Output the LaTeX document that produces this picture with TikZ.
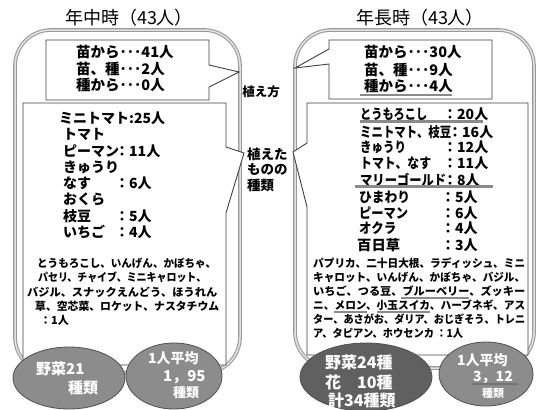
\documentclass[tikz,border=0pt]{standalone}
\usepackage{graphicx}
\usepackage{fontspec}
\newfontfamily\jp{Noto Sans CJK JP}
\newcommand{\jpsz}[1]{\fontsize{#1}{#1}\selectfont}
\newcommand{\fitw}[2]{\resizebox{#1pt}{\height}{#2}}
\definecolor{frameC}{HTML}{9A9A9A}
\definecolor{frameIn}{HTML}{E2E2E2}
\definecolor{boxC}{HTML}{404040}
\definecolor{ellL}{HTML}{8C8C8C}
\definecolor{ellD}{HTML}{606060}
\definecolor{ellO}{HTML}{505050}
\definecolor{ulC}{HTML}{8A8A8A}
\begin{document}
\begin{tikzpicture}[x=1pt,y=-1pt,
  frame/.style={draw=frameC,line width=1.1pt,double=frameIn,double distance=1.5pt,rounded corners=36pt},
  callout/.style={draw=boxC,line width=0.9pt,fill=white,line join=miter},
  ell/.style={draw=ellO,line width=0.8pt},
  txt/.style={inner sep=0pt,anchor=west,font=\jp\bfseries\jpsz{14}},
  toptxt/.style={inner sep=0pt,anchor=west,font=\jp\bfseries\jpsz{14.5}},
  para/.style={inner sep=0pt,anchor=west,font=\jp\bfseries\jpsz{11}},
  title/.style={inner sep=0pt,font=\jp\jpsz{18}},
  mid/.style={inner sep=0pt,anchor=west,font=\jp\bfseries\jpsz{13.5}},
  etxt/.style={inner sep=0pt,anchor=west,text=white,font=\jp\bfseries\jpsz{15}},
  uline/.style={draw=ulC,line width=2.4pt}
]
\useasboundingbox (0,0) rectangle (536,410);
\fill[white] (0,0) rectangle (536,410);

% ---------- titles ----------
\node[title] (t1) at (129,18) {年中時（43人）};
\node[title] (t2) at (420,18) {年長時（43人）};

% ---------- outer frames ----------
\draw[frame] (15,30) rectangle (240,373);
\draw[frame] (295,30) rectangle (534,368);

% ---------- left callout boxes ----------
\draw[callout] (209,65) -- (239,72) -- (209,87) -- (209,100) -- (46,100) -- (46,40) -- (209,40) -- cycle;
\draw[callout] (226,147) -- (244,153) -- (226,213) -- (226,365) -- (23,365) -- (23,103) -- (226,103) -- cycle;

% ---------- right callout boxes ----------
\draw[callout] (329,49) -- (295,68) -- (329,64) -- (329,99) -- (492,99) -- (492,40) -- (329,40) -- cycle;
\draw[callout] (307,143) -- (293,152) -- (307,207) -- (307,355) -- (528,355) -- (528,103) -- (307,103) -- cycle;

% ---------- middle labels ----------
\node[inner sep=0pt,font=\jp\bfseries\jpsz{12.5}] (m1) at (261,92) {植え方};
\node[mid] (m2) at (247,154) {植えた};
\node[mid] (m3) at (247,169) {ものの};
\node[mid] (m4) at (247,185) {種類};

% ---------- left top box text ----------
\node[toptxt] (a1) at (76,52) {苗から･･･41人};
\node[toptxt] (a2) at (76,69) {苗、種･･･2人};
\node[toptxt] (a3) at (76,85) {種から･･･0人};

% ---------- left list ----------
\node[txt] (b1) at (59,118) {ミニトマト:25人};
\node[txt] (b2) at (63,134) {トマト};
\node[txt] (b3) at (63,151) {ピーマン};
\node[txt] (b3c) at (115,151) {：11人};
\node[txt] (b4) at (63,167) {きゅうり};
\node[txt] (b5) at (63,183) {なす};
\node[txt] (b5c) at (115,183) {：6人};
\node[txt] (b6) at (63,199) {おくら};
\node[txt] (b7) at (63,216) {枝豆};
\node[txt] (b7c) at (115,216) {：5人};
\node[txt] (b8) at (63,232) {いちご};
\node[txt] (b8c) at (115,232) {：4人};

% ---------- left paragraph ----------
\node[para] (p1) at (37,263) {\fitw{179}{とうもろこし、いんげん、かぼちゃ、}};
\node[para] (p2) at (38,277) {\fitw{168}{パセリ、チャイブ、ミニキャロット、}};
\node[para] (p3) at (27,292) {\fitw{190}{バジル、スナックえんどう、ほうれん}};
\node[para] (p4) at (35,306) {\fitw{184}{草、空芯菜、ロケット、ナスタチウム}};
\node[para] (p5) at (40,320) {：1人};

% ---------- right top box text ----------
\node[toptxt] (c1) at (364,52) {苗から･･･30人};
\node[toptxt] (c2) at (364,70) {苗、種･･･9人};
\node[toptxt] (c3) at (364,86) {種から･･･4人};
\draw[uline] (360,95) -- (452,95);

% ---------- right list ----------
\node[txt] (d1) at (360,114) {\fitw{67}{とうもろこし}};
\node[txt] (d1c) at (443,114) {：20人};
\draw[uline] (360,121.5) -- (483,121.5);
\node[txt] (d2) at (360,132) {\fitw{91}{ミニトマト、枝豆}};
\node[txt] (d2c) at (448,132) {：16人};
\node[txt] (d3) at (360,147) {\fitw{46}{きゅうり}};
\node[txt] (d3c) at (443,147) {：12人};
\node[txt] (d4) at (360,163) {\fitw{71}{トマト、なす}};
\node[txt] (d4c) at (443,163) {：11人};
\node[txt] (d5) at (360,180) {\fitw{86}{マリーゴールド}};
\node[txt] (d5c) at (443,180) {：8人};
\draw[uline] (355,186.5) -- (493,186.5);
\node[txt] (d6) at (359,197) {\fitw{51}{ひまわり}};
\node[txt] (d6c) at (441,197) {：5人};
\node[txt] (d7) at (359,213) {\fitw{49}{ピーマン}};
\node[txt] (d7c) at (441,213) {：6人};
\node[txt] (d8) at (359,228) {\fitw{37}{オクラ}};
\node[txt] (d8c) at (441,228) {：4人};
\node[txt] (d9) at (357,245) {\fitw{43}{百日草}};
\node[txt] (d9c) at (441,245) {：3人};

% ---------- right paragraph ----------
\node[para] (q1) at (313,263) {\fitw{212}{パプリカ、二十日大根、ラディッシュ、ミニ}};
\node[para] (q2) at (313,277) {\fitw{212}{キャロット、いんげん、かぼちゃ、バジル、}};
\node[para] (q3) at (313,291) {\fitw{212}{いちご、つる豆、ブルーベリー、ズッキー}};
\node[para] (q4) at (313,305) {\fitw{212}{ニ、メロン、小玉スイカ、ハーブネギ、アス}};
\node[para] (q5) at (313,319) {\fitw{212}{ター、あさがお、ダリア、おじぎそう、トレニ}};
\node[para] (q6) at (313,333) {\fitw{150}{ア、タピアン、ホウセンカ ：1人}};
\draw[uline] (401,298) -- (469,298);
\draw[uline] (334,312) -- (367,312);
\draw[uline] (377,312) -- (430,312);

% ---------- ellipses left ----------
\draw[ell,fill=ellL] (69,378) ellipse [x radius=56pt, y radius=31pt];
\draw[ell,fill=ellL] (174,376) ellipse [x radius=48pt, y radius=33pt];
\node[etxt] (e1) at (36,369) {野菜21};
\node[etxt] (e2) at (68,388) {種類};
\node[etxt,font=\jp\bfseries\jpsz{14}] (e3) at (148,358) {1人平均};
\node[etxt] (e4) at (163,377) {1，95};
\node[etxt,font=\jp\bfseries\jpsz{13}] (e5) at (173,393) {種類};

% ---------- ellipses right ----------
\draw[ell,fill=ellD] (366,377) ellipse [x radius=66pt, y radius=34pt];
\draw[ell,fill=ellL] (486,374) ellipse [x radius=47pt, y radius=32pt];
\node[etxt,font=\jp\bfseries\jpsz{16}] (f1) at (325,362) {野菜24種};
\node[etxt,font=\jp\bfseries\jpsz{16}] (f2) at (325,382) {花　10種};
\node[etxt,font=\jp\bfseries\jpsz{16}] (f3) at (328,400) {計34種類};
\node[etxt,font=\jp\bfseries\jpsz{14}] (g1) at (457,360) {1人平均};
\node[etxt,font=\jp\bfseries\jpsz{14}] (g2) at (473,377) {3，12};
\draw[draw=black!55,line width=1.3pt] (472,384) -- (518,384);
\node[etxt,font=\jp\bfseries\jpsz{11}] (g3) at (482,393) {種類};
\end{tikzpicture}
\end{document}
